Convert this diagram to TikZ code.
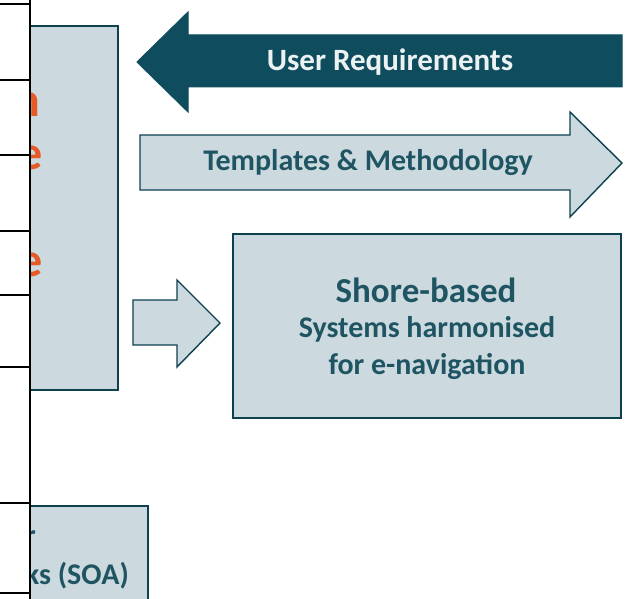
\documentclass[tikz,border=0pt]{standalone}
\usepackage{fontspec}
\setmainfont{Carlito}
\definecolor{teal}{HTML}{0F4D5E}
\definecolor{paleb}{HTML}{CCD9DE}
\definecolor{tealtxt}{HTML}{1F5563}
\definecolor{orng}{HTML}{E65A28}
\tikzset{
  panel/.style={draw=teal!85!black, line width=1.6pt, fill=paleb},
  txt/.style={font=\bfseries, text=tealtxt, inner sep=0pt},
  blk/.style={draw=black, line width=1.2pt}
}
\begin{document}
\begin{tikzpicture}[x=1pt,y=-1pt]
\useasboundingbox (0,0) rectangle (629,599);
\fill[white] (0,0) rectangle (629,599);
% left panel
\draw[panel] (20,26) rectangle (118,390);
\node[txt, text=orng, font=\bfseries\fontsize{48}{52}\selectfont, anchor=east] (ln) at (40,105) {n};
\node[txt, text=orng, font=\bfseries\fontsize{48}{52}\selectfont, anchor=east] (le1) at (43,158) {e};
\node[txt, text=orng, font=\bfseries\fontsize{48}{52}\selectfont, anchor=east] (le2) at (43,265) {e};
% bottom panel
\draw[panel] (20,506) rectangle (148,610);
\node[txt, font=\bfseries\fontsize{30}{32}\selectfont, anchor=east] (lr) at (36,538) {r};
\node[txt, font=\bfseries\fontsize{30}{32}\selectfont, anchor=east] (lsoa) at (129,576) {ks (SOA)};
% user requirements arrow
\draw[fill=teal, draw=teal, line width=1pt] (137,62) -- (188,12) -- (188,35) -- (622,35) -- (622,87) -- (188,87) -- (188,112) -- cycle;
\node[txt, text=white!92!teal, font=\bfseries\fontsize{31}{34}\selectfont] (ur) at (390,62) {User Requirements};
% templates arrow
\draw[panel, line width=1.4pt] (140,135) -- (570,135) -- (570,112) -- (622,163) -- (570,217) -- (570,190) -- (140,190) -- cycle;
\node[txt, font=\bfseries\fontsize{30}{33}\selectfont] (tm) at (368,163) {Templates \& Methodology};
% small arrow
\draw[panel, line width=1.4pt] (133,300) -- (177,300) -- (177,280) -- (220,323) -- (177,367) -- (177,345) -- (133,345) -- cycle;
% shore-based box
\node[panel, minimum width=388pt, minimum height=184pt, anchor=north west] (sb) at (232,233) {};
\node[txt, font=\bfseries\fontsize{35}{38}\selectfont] (t1) at (426,290) {Shore-based};
\node[txt, font=\bfseries\fontsize{30}{33}\selectfont] (t2) at (427,329) {Systems harmonised};
\node[txt, font=\bfseries\fontsize{30}{33}\selectfont] (t3) at (427,366) {for e-navigation};
% overlaying table column
\fill[white] (0,0) rectangle (30,599);
\draw[blk] (30,0) -- (30,599);
\foreach \yy in {4,80,155,231,295,367,503,593} \draw[blk] (0,\yy) -- (30,\yy);
\end{tikzpicture}
\end{document}
